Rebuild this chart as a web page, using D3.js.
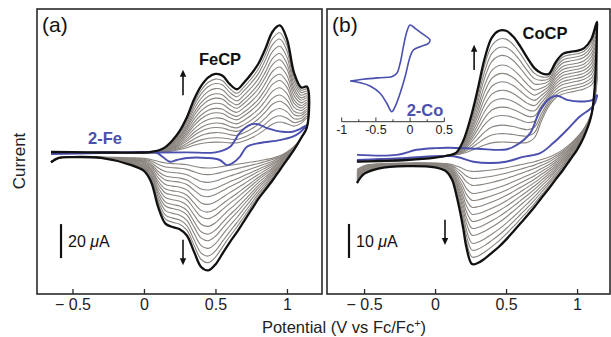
<!DOCTYPE html>
<html>
<head>
<script src="https://d3js.org/d3.v7.min.js"></script>
<style>
  body { margin: 0; background: #fff; }
  svg { font-family: "Liberation Sans", Arial, sans-serif; }
</style>
</head>
<body>
<script>
// ---- panel (a) FeCP : forward sweep
var fePotFwd   = [-0.65,-0.4,-0.2,0.0,0.05,0.1,0.15,0.2,0.25,0.3,0.35,0.4,0.45,0.5,0.55,0.6,0.65,0.7,0.75,0.8,0.85,0.9,0.95,1.0,1.05,1.1,1.14];
var feLastFwd  = [0.6,0.4,0.3,0.3,0.7,1.5,3.5,7.5,13,21,31.5,39.5,44.5,46.5,45.5,40.5,37.5,41.5,46.5,52.5,61.5,71.5,75,67,47,38.5,39];
var feFirstFwd = [0,0,0,0,0,0.2,0.4,0.7,1.2,1.8,2.5,3,3.3,3.4,3.4,3.4,3.6,4.5,6,8,10.5,13,14,13.5,13.5,16,19];
// reverse sweep
var fePotRev   = [1.14,1.1,1.05,1.0,0.95,0.9,0.85,0.8,0.75,0.7,0.65,0.6,0.55,0.5,0.45,0.4,0.35,0.3,0.25,0.2,0.15,0.1,0.05,0.0,-0.1,-0.3,-0.5,-0.6,-0.65];
var feLastRev  = [15.3,9,2,-4,-10,-16,-21.5,-27,-33.5,-40,-46.5,-52.5,-59,-65.5,-69,-67,-58,-48.5,-44.8,-43.5,-41.5,-32,-17,-10.5,-6.8,-2.9,-2.4,-3,-5.5];
var feFirstRev = [15,9,4,1,-1,-2,-2.5,-3,-3.2,-3.4,-3.6,-3.8,-4,-4.2,-4.3,-4.2,-4,-3.8,-3.6,-3.4,-3.2,-3,-2.8,-2.6,-2.5,-2.4,-2.4,-3,-5];
// growth of each intermediate scan, relative to the last scan
var feScans = [0.07,0.13,0.2,0.27,0.33,0.4,0.47,0.53,0.6,0.67,0.73,0.8,0.87,0.93];
// 2-Fe
var fe2Pot = [-0.65,-0.3,0.0,0.3,0.5,0.6,0.67,0.74,0.79,0.86,0.97,1.04,1.09,1.14,1.09,1.04,0.95,0.81,0.72,0.67,0.62,0.58,0.53,0.44,0.3,0.23,0.18,0.13,0.09,-0.31,-0.65];
var fe2Cur = [0,0.3,0.3,0.4,0.4,3.5,11.8,16.5,17.1,14.7,12.5,12.5,14.1,16.5,12.1,9.6,7.6,5.9,3.7,-2.2,-5.9,-7.1,-4.1,-2.9,-2.9,-4.1,-5.1,-2.2,0,0,-0.6];

// ---- panel (b) CoCP : forward sweep
var coPotFwd   = [-0.55,-0.4,-0.2,0.0,0.1,0.15,0.2,0.25,0.3,0.35,0.4,0.45,0.5,0.55,0.6,0.65,0.7,0.75,0.8,0.85,0.9,0.95,1.0,1.05,1.1,1.14];
var coLastFwd  = [-2,-1.8,-1.5,-0.8,-0.1,0.7,4.3,10.8,19.2,28.5,34.5,36.5,36.5,34.8,31.9,28.5,25.5,24,23.8,27.3,29.7,30.3,30.6,31.4,34,39.1];
var coFirstFwd = [-1.5,-1.2,-1,-0.5,0,0,0.2,0.5,0.8,1,1.2,1.3,1.3,1.3,1.4,1.8,3.5,9,13.5,16,17,17.5,18,18.5,19.5,22];
// reverse sweep
var coPotRev   = [1.14,1.12,1.1,1.05,1.0,0.95,0.9,0.85,0.8,0.75,0.7,0.65,0.6,0.55,0.5,0.45,0.4,0.35,0.3,0.26,0.22,0.2,0.18,0.15,0.12,0.08,0.0,-0.2,-0.4,-0.5,-0.55];
var coLastRev  = [37,17.6,11.5,5.5,1.5,-1.5,-4.5,-7.2,-10,-12.6,-15.3,-17.8,-20.2,-22.6,-24.9,-27,-28.8,-30.5,-31.8,-32.1,-27,-22,-17.5,-11.8,-7.3,-4.9,-3.7,-3.3,-4,-5.6,-8.3];
var coFirstRev = [20,15,12,8,5.5,3.5,2,0.8,0,-0.5,-1,-1.3,-1.6,-1.9,-2.2,-2.4,-2.6,-2.7,-2.8,-2.8,-2.8,-2.8,-2.7,-2.6,-2.5,-2.4,-2.3,-2.3,-2.5,-3,-4];
var coScans = [0.07,0.14,0.21,0.29,0.36,0.43,0.5,0.57,0.64,0.71,0.79,0.86,0.93];
// 2-Co (main panel)
var co2Pot = [-0.55,-0.27,-0.13,0.0,0.1,0.3,0.5,0.575,0.67,0.74,0.81,0.86,0.93,1.02,1.11,1.14,1.14,1.11,1.02,0.93,0.83,0.74,0.62,0.5,0.39,0.27,0.155,0.04,-0.2,-0.55];
var co2Cur = [0,0,1.5,2,2.1,1.8,1.6,2.9,6.4,13.2,16.7,17.4,16.2,15.7,16.2,17.6,17.1,14.2,11.3,7.4,3.4,0.5,-0.6,-2,-2.4,-2,-0.6,-0.3,-0.9,-1.5];
// 2-Co inset
var insetPot = [-0.877,-0.683,-0.439,-0.268,-0.194,-0.146,-0.098,-0.048,0,0.073,0.171,0.292,0.268,0.146,0.048,0,-0.073,-0.146,-0.219,-0.268,-0.341,-0.439,-0.585,-0.731,-0.877];
var insetCur = [-0.5,0.35,1.15,1.65,3.35,8.35,16.65,24.15,27.5,25.85,23.35,20,18.35,16.65,15,11.65,1.65,-6.65,-13.35,-15.85,-11.65,-6.65,-3,-1.35,-0.5];

var xTicks = [-0.5, 0, 0.5, 1];
var insetTicks = [-1, -0.5, 0, 0.5];
var insetMinor = [-0.75, -0.25, 0.25];

var width = 611, height = 337;
var gray = '#8a847e', blue = '#4b4fae', ink = '#111';

var svg = d3.select('body').append('svg')
    .attr('width', width)
    .attr('height', height);

function scan(potF, curF0, curF1, potR, curR0, curR1, f) {
    var pts = potF.map((v, i) => [v, curF0[i] + f * (curF1[i] - curF0[i])]);
    return pts.concat(potR.map((v, i) => [v, curR0[i] + f * (curR1[i] - curR0[i])]));
}

function arrow(g, x, y, v, i0, i1) {
    var x0 = x(v), y0 = y(i0), y1 = y(i1);
    var dir = y1 < y0 ? 1 : -1;
    g.append('line')
        .attr('x1', x0).attr('x2', x0)
        .attr('y1', y0).attr('y2', y1 + dir * 6)
        .attr('stroke', ink).attr('stroke-width', 1.6);
    g.append('path')
        .attr('d', 'M' + (x0 - 3.2) + ',' + (y1 + dir * 7) + 'L' + x0 + ',' + y1 + 'L' + (x0 + 3.2) + ',' + (y1 + dir * 7) + 'Z')
        .attr('fill', ink);
}

function panel(opt) {
    var x = d3.scaleLinear().domain(opt.xDomain).range([opt.left, opt.right]);
    var y = d3.scaleLinear().domain(opt.yDomain).range([294, 9]);
    var g = svg.append('g');

    var line = d3.line()
        .x(d => x(d[0]))
        .y(d => y(d[1]))
        .curve(d3.curveCatmullRom.alpha(0.5));

    // intermediate scans
    g.selectAll('path.scan')
        .data(opt.scans)
        .enter()
        .append('path')
        .attr('class', 'scan')
        .attr('d', f => line(scan(opt.potF, opt.firstF, opt.lastF, opt.potR, opt.firstR, opt.lastR, f)))
        .attr('fill', 'none')
        .attr('stroke', gray)
        .attr('stroke-width', 1.1);

    // monomer
    g.append('path')
        .attr('d', line(opt.monoPot.map((v, i) => [v, opt.monoCur[i]])))
        .attr('fill', 'none')
        .attr('stroke', blue)
        .attr('stroke-width', 1.9);

    // last scan
    g.append('path')
        .attr('d', line(scan(opt.potF, opt.firstF, opt.lastF, opt.potR, opt.firstR, opt.lastR, 1)))
        .attr('fill', 'none')
        .attr('stroke', ink)
        .attr('stroke-width', 2.3);

    // frame
    g.append('rect')
        .attr('x', opt.left).attr('y', 9)
        .attr('width', opt.right - opt.left).attr('height', 285)
        .attr('fill', 'none')
        .attr('stroke', '#2a2a2a')
        .attr('stroke-width', 1.6);

    // x axis, ticks pointing inside
    var axis = d3.axisBottom(x)
        .tickValues(xTicks)
        .tickSizeInner(-5)
        .tickSizeOuter(0)
        .tickPadding(5)
        .tickFormat(d => d < 0 ? '\u2212 ' + Math.abs(d) : d);
    var ax = g.append('g')
        .attr('transform', 'translate(0,294)')
        .call(axis);
    ax.select('.domain').remove();
    ax.selectAll('line').attr('stroke', '#2a2a2a').attr('stroke-width', 1.3);
    ax.selectAll('text').attr('font-size', 16).attr('fill', '#222')
        .attr('font-family', '"Liberation Sans", Arial, sans-serif');

    // scale bar
    g.append('line')
        .attr('x1', x(opt.bar[0])).attr('x2', x(opt.bar[0]))
        .attr('y1', y(opt.bar[1])).attr('y2', y(opt.bar[1] - opt.bar[2]))
        .attr('stroke', ink).attr('stroke-width', 2.2);
    var bl = g.append('text')
        .attr('x', x(opt.bar[0]) + 7)
        .attr('y', y(opt.bar[1] - opt.bar[2] / 2) + 6)
        .attr('font-size', 16).attr('fill', ink);
    bl.append('tspan').text(opt.bar[2] + ' ');
    bl.append('tspan').attr('font-style', 'italic').text('\u03bc');
    bl.append('tspan').text('A');

    arrow(g, x, y, opt.up[0], opt.up[1], opt.up[2]);
    arrow(g, x, y, opt.down[0], opt.down[1], opt.down[2]);

    g.append('text')
        .attr('x', opt.left + 5).attr('y', 32)
        .attr('font-size', 21).attr('fill', ink)
        .text(opt.tag);
    g.append('text')
        .attr('x', opt.name[0]).attr('y', opt.name[1])
        .attr('text-anchor', 'middle')
        .attr('font-size', 16.5).attr('font-weight', 'bold').attr('fill', ink)
        .text(opt.name[2]);
    g.append('text')
        .attr('x', opt.mono[0]).attr('y', opt.mono[1])
        .attr('text-anchor', 'middle')
        .attr('font-size', 16.5).attr('font-weight', 'bold').attr('fill', blue)
        .text(opt.mono[2]);
    return g;
}

panel({
    left: 37, right: 322,
    xDomain: [-0.748, 1.245], yDomain: [-82.9, 84.7],
    potF: fePotFwd, firstF: feFirstFwd, lastF: feLastFwd,
    potR: fePotRev, firstR: feFirstRev, lastR: feLastRev,
    scans: feScans, monoPot: fe2Pot, monoCur: fe2Cur,
    bar: [-0.58, -41.8, 20],
    up: [0.273, 34, 49], down: [0.273, -51, -66],
    tag: '(a)', name: [220, 65, 'FeCP'], mono: [105, 144, '2-Fe']
});

panel({
    left: 327, right: 610,
    xDomain: [-0.761, 1.232], yDomain: [-40.9, 42.9],
    potF: coPotFwd, firstF: coFirstFwd, lastF: coLastFwd,
    potR: coPotRev, firstR: coFirstRev, lastR: coLastRev,
    scans: coScans, monoPot: co2Pot, monoCur: co2Cur,
    bar: [-0.606, -20.3, 10],
    up: [0.275, 25, 32.4], down: [0.07, -19.1, -26.5],
    tag: '(b)', name: [545, 39, 'CoCP'], mono: [425, 116, '2-Co']
});

// inset of 2-Co
var ix = d3.scaleLinear().domain([-1, 0.5]).range([341.7, 444.3]);
var iy = d3.scaleLinear().domain([-20, 30]).range([120, 20]);
var inset = svg.append('g');
inset.append('path')
    .attr('d', d3.line().x(d => ix(d[0])).y(d => iy(d[1])).curve(d3.curveCatmullRom.alpha(0.5))
        (insetPot.map((v, i) => [v, insetCur[i]])))
    .attr('fill', 'none')
    .attr('stroke', blue)
    .attr('stroke-width', 1.6);
inset.append('line')
    .attr('x1', ix(-1)).attr('x2', ix(0.5))
    .attr('y1', 121.7).attr('y2', 121.7)
    .attr('stroke', '#333').attr('stroke-width', 1);
inset.selectAll('line.major')
    .data(insetTicks).enter().append('line')
    .attr('class', 'major')
    .attr('x1', d => ix(d)).attr('x2', d => ix(d))
    .attr('y1', 121.7).attr('y2', 117.5)
    .attr('stroke', '#333').attr('stroke-width', 1);
inset.selectAll('line.minor')
    .data(insetMinor).enter().append('line')
    .attr('class', 'minor')
    .attr('x1', d => ix(d)).attr('x2', d => ix(d))
    .attr('y1', 121.7).attr('y2', 119.3)
    .attr('stroke', '#333').attr('stroke-width', 1);
inset.selectAll('text')
    .data(insetTicks).enter().append('text')
    .attr('x', d => ix(d)).attr('y', 134)
    .attr('text-anchor', 'middle')
    .attr('font-size', 12.5).attr('fill', '#222')
    .text(d => d);

// shared axis titles
svg.append('text')
    .attr('transform', 'translate(25,161) rotate(-90)')
    .attr('text-anchor', 'middle')
    .attr('font-size', 17).attr('fill', '#222')
    .text('Current');
var xt = svg.append('text')
    .attr('x', 344).attr('y', 333)
    .attr('text-anchor', 'middle')
    .attr('font-size', 16.5).attr('fill', '#222');
xt.append('tspan').text('Potential (V vs Fc/Fc');
xt.append('tspan').attr('dy', -6).attr('font-size', 11).text('+');
xt.append('tspan').attr('dy', 6).text(')');
</script>
</body>
</html>
